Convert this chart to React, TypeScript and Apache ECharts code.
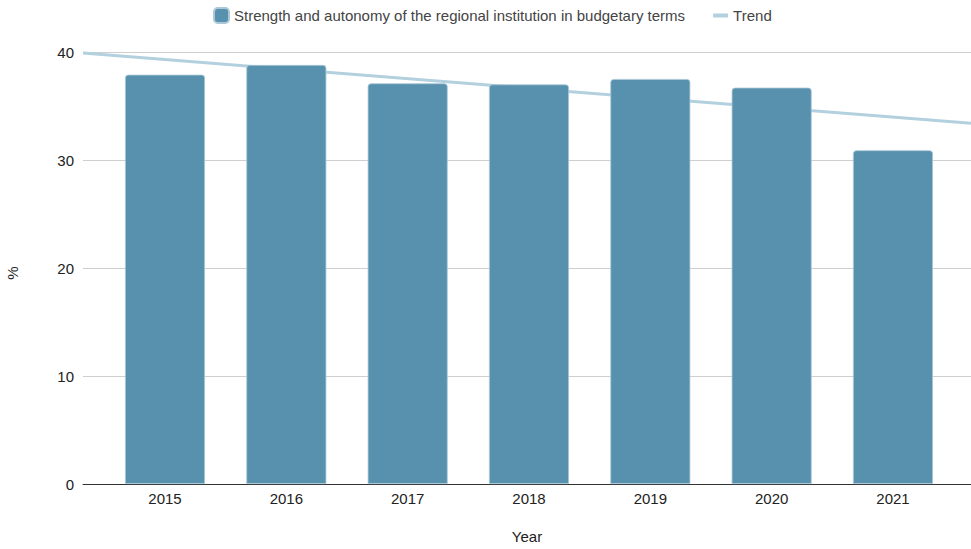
import React, { useEffect, useRef } from "react";
import * as echarts from "echarts";

const years = [2015, 2016, 2017, 2018, 2019, 2020, 2021];
const values = [37.9, 38.8, 37.1, 37.0, 37.5, 36.7, 30.9];
const trendX = [2014.324, 2021.643];
const trendY = [39.9, 33.4];
const yTicks = [0, 10, 20, 30, 40];
const barName = "Strength and autonomy of the regional institution in budgetary terms";
const trendName = "Trend";

export default function App() {
  const ref = useRef<HTMLDivElement>(null);
  useEffect(() => {
    if (!ref.current) return;
    const chart = echarts.init(ref.current, null, { renderer: "svg" });
    const font = "'Liberation Sans', Arial, sans-serif";
    chart.setOption({
      animation: false,
      textStyle: { fontFamily: font },
      legend: {
        top: 2,
        left: 208,
        itemGap: 28,
        itemWidth: 15,
        itemHeight: 15,
        textStyle: { fontSize: 15, color: "#444", fontFamily: font },
        data: [
          { name: barName, icon: "roundRect" },
          { name: trendName, icon: "path://M0,6 H15 V10 H0 Z" },
        ],
      },
      grid: {
        left: 83,
        right: 0,
        top: 52,
        bottom: 65,
        containLabel: false,
        outerBoundsMode: "none",
      },
      xAxis: {
        type: "value",
        min: trendX[0],
        max: trendX[1],
        name: "Year",
        nameLocation: "middle",
        nameGap: 45,
        nameTextStyle: { fontSize: 15, color: "#222", fontFamily: font },
        splitLine: { show: false },
        axisLine: { show: true, lineStyle: { color: "#333", width: 1 } },
        axisTick: { show: false },
        axisLabel: {
          customValues: years,
          fontSize: 15,
          color: "#222",
          margin: 7,
          fontFamily: font,
          formatter: (v: number) => String(Math.round(v)),
        },
      },
      yAxis: {
        type: "value",
        min: yTicks[0],
        max: yTicks[yTicks.length - 1],
        interval: 10,
        name: "%",
        nameLocation: "middle",
        nameGap: 63,
        nameRotate: 90,
        nameTextStyle: { fontSize: 15, color: "#222", fontFamily: font, padding: [0, 10, 0, 0] },
        axisLine: { show: false },
        axisTick: { show: false },
        axisLabel: { fontSize: 15, color: "#222", margin: 9, fontFamily: font },
        splitLine: { lineStyle: { color: "#cfcfcf", width: 1 } },
      },
      series: [
        {
          name: trendName,
          type: "line",
          z: 1,
          data: trendX.map((x, i) => [x, trendY[i]]),
          symbol: "none",
          lineStyle: { color: "#b3d0de", width: 3 },
          itemStyle: { color: "#b3d0de" },
        },
        {
          name: barName,
          type: "bar",
          z: 2,
          barWidth: 80,
          data: years.map((y, i) => [y, values[i]]),
          itemStyle: {
            color: "#5891ae",
            borderRadius: [3, 3, 0, 0],
            borderColor: "#a9c8d8",
            borderWidth: 0.8,
          },
        },
      ],
    });
    return () => chart.dispose();
  }, []);
  return <div ref={ref} style={{ width: 971, height: 549, position: "absolute", left: 0, top: 0 }} />;
}
